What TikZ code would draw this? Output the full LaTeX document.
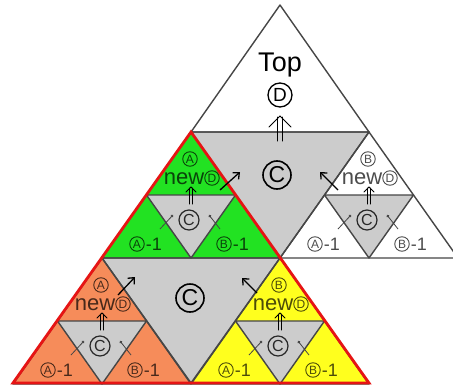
\documentclass[tikz,border=0pt]{standalone}
\usepackage{fontspec}
\setmainfont{Liberation Sans}
\usetikzlibrary{arrows.meta}
\definecolor{cgreen}{RGB}{34,226,34}
\definecolor{corange}{RGB}{246,140,90}
\definecolor{cyellow}{RGB}{255,255,30}
\definecolor{cgray}{RGB}{204,204,204}
\definecolor{cred}{RGB}{230,20,20}
\definecolor{edgecol}{RGB}{70,70,70}
\tikzset{
  edge/.style={draw=edgecol,line width=1.4pt,line join=round},
  redline/.style={draw=cred,line width=2.8pt,line join=miter},
  circA/.style={circle,draw,inner sep=0pt,minimum size=14.5pt,line width=0.9pt,font=\fontsize{12}{12}\selectfont},
  circC/.style={circle,draw,inner sep=0pt,minimum size=20pt,line width=1.2pt,font=\fontsize{16}{16}\selectfont},
  bigC/.style={circle,draw,inner sep=0pt,minimum size=28pt,line width=1.6pt,font=\fontsize{23}{23}\selectfont},
  topD/.style={circle,draw,inner sep=0pt,minimum size=24pt,line width=1.3pt,font=\fontsize{19}{19}\selectfont},
  newtxt/.style={inner sep=0pt,font=\fontsize{22}{22}\selectfont},
  onetxt/.style={inner sep=0pt,font=\fontsize{18}{18}\selectfont},
  sub/.style={opacity=0.7},
  subC/.style={opacity=0.8},
  arrline/.style={draw=black,line width=1pt,line cap=round},
  diag/.style={draw=black,line width=1.3pt,-{Straight Barb[length=5pt,width=9pt]}},
  tick/.style={draw=edgecol,line width=0.8pt,-{Circle[length=2.8pt]}},
}
% double arrow: #1 start, #2 tip, #3 half gap, #4 wing
\newcommand\dblarr[4]{%
  \draw[arrline] ([xshift=-#3pt]#1) -- ([xshift=-#3pt,yshift=-1pt]#2);
  \draw[arrline] ([xshift=#3pt]#1) -- ([xshift=#3pt,yshift=-1pt]#2);
  \draw[arrline,line join=miter] ([xshift=-#4pt,yshift=-#4pt]#2) -- (#2) -- ([xshift=#4pt,yshift=-#4pt]#2);
}
% sub triangle shapes: #1 ax, #2 ay, #3 fill
\newcommand\subtri[3]{%
  \fill[#3] (#1,#2) -- ({#1-89},{#2+126}) -- ({#1+89},{#2+126}) -- cycle;
  \fill[cgray] ({#1-44.5},{#2+63}) -- ({#1+44.5},{#2+63}) -- (#1,{#2+126}) -- cycle;
  \draw[edge] (#1,#2) -- ({#1-89},{#2+126}) -- ({#1+89},{#2+126}) -- cycle;
  \draw[edge] ({#1-44.5},{#2+63}) -- ({#1+44.5},{#2+63}) -- (#1,{#2+126}) -- cycle;
}
% sub labels: #1 name, #2 ax, #3 ay, #4 letter, #5-#8 diagonal arrow tail/head offsets
\newcommand\sublabels[8]{%
  \node[circA,sub] (#1-L) at ({#2-1},{#3+27}) {#4};
  \node[newtxt,sub] (#1-new) at ({#2-7},{#3+47}) {new};
  \node[circA,sub] (#1-D) at ({#2+21},{#3+46}) {D};
  \node[circC,subC] (#1-C) at ({#2-2},{#3+88}) {C};
  \node[circA,sub] (#1-A) at ({#2-54},{#3+112}) {A};
  \node[onetxt,sub,anchor=west] (#1-A1) at ([xshift=1pt]#1-A.east) {-1};
  \node[circA,sub] (#1-B) at ({#2+33},{#3+112}) {B};
  \node[onetxt,sub,anchor=west] (#1-B1) at ([xshift=1pt]#1-B.east) {-1};
  \coordinate (#1-ta0) at ({#2-31},{#3+97});
  \coordinate (#1-ta1) at ({#2-18},{#3+83});
  \coordinate (#1-tb0) at ({#2+29},{#3+97});
  \coordinate (#1-tb1) at ({#2+18},{#3+83});
  \draw[tick] (#1-ta0) -- (#1-ta1);
  \draw[tick] (#1-tb0) -- (#1-tb1);
  \coordinate (#1-u0) at (#2,{#3+72});
  \coordinate (#1-u1) at (#2,{#3+55});
  \dblarr{#1-u0}{#1-u1}{1.6}{5}
  \coordinate (#1-d0) at ({#2+(#5)},{#3+(#6)});
  \coordinate (#1-d1) at ({#2+(#7)},{#3+(#8)});
  \draw[diag] (#1-d0) -- (#1-d1);
}
\begin{document}
\begin{tikzpicture}[x=1pt,y=-1pt]
\useasboundingbox[fill=white] (0,0) rectangle (453,386);
\begin{scope}
\clip (0,0) rectangle (453,386);
% big gray centres
\fill[cgray] (191,132) -- (369,132) -- (280,258) -- cycle;
\fill[cgray] (102,258) -- (280,258) -- (191,383) -- cycle;
% level-1 triangles
\subtri{191}{132}{cgreen}
\subtri{369}{132}{white}
\subtri{102}{258}{corange}
\subtri{280}{258}{cyellow}
% outlines of top and centres
\draw[edge] (280,5) -- (191,132) -- (369,132) -- cycle;
\draw[edge] (191,132) -- (369,132) -- (280,258) -- cycle;
\draw[edge] (102,258) -- (280,258) -- (191,383) -- cycle;
% red outline
\draw[redline] (191,132) -- (13,383) -- (369,383) -- cycle;
\end{scope}
% top labels
\node[inner sep=0pt,anchor=base,font=\fontsize{27}{27}\selectfont] (top) at (280,71) {Top};
\node[topD] (topd) at (280,95) {D};
\coordinate (topu0) at (280,141);
\coordinate (topu1) at (280,116);
\dblarr{topu0}{topu1}{2.6}{11}
\node[bigC] (c1) at (277,175) {C};
\node[bigC] (c2) at (190,298) {C};
% sub labels
\sublabels{g}{191}{132}{A}{29}{58}{49}{40}
\sublabels{w}{369}{132}{B}{-31}{58}{-49}{40}
\sublabels{o}{102}{258}{A}{16}{37}{33}{19}
\sublabels{y}{280}{258}{B}{-23}{35}{-38}{20}
\end{tikzpicture}
\end{document}
